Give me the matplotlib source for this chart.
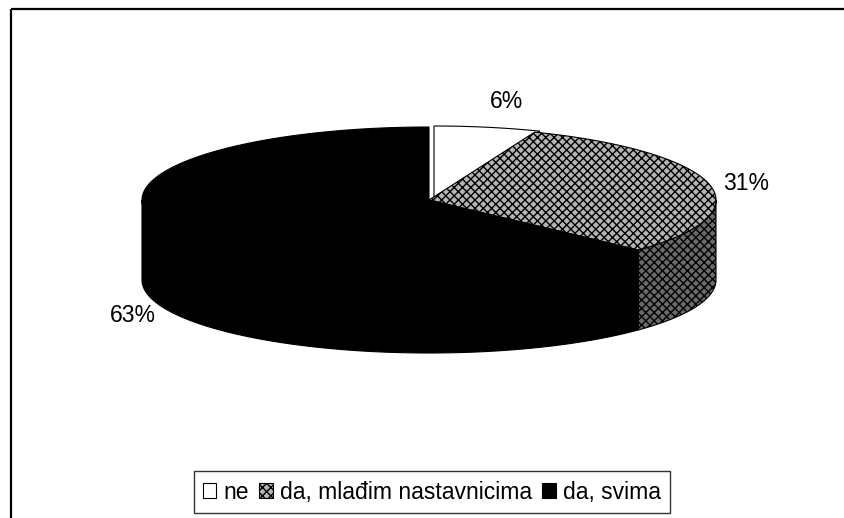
import numpy as np
import matplotlib.pyplot as plt
from matplotlib.patches import Polygon, Patch

plt.rcParams['font.family'] = ['Liberation Sans', 'DejaVu Sans']
plt.rcParams['hatch.linewidth'] = 1.0

# survey answers
labels = ['ne', 'da, mlađim nastavnicima', 'da, svima']
shares = [6, 31, 63]
pct_text = ['6%', '31%', '63%']

# look of each slice: top colour, side colour, hatch
top_colors = ['white', '#b4b4b4', 'black']
side_colors = ['white', '#6a6a6a', 'black']
hatches = [None, 'xxxx', None]
shift_x = [5, 0, 0]
shift_y = [-1, 0, 0]
label_xy = [(507, 101), (746, 183), (133, 315)]

fig = plt.figure(figsize=(8.45, 5.18), dpi=100)
ax = fig.add_axes([0, 0, 1, 1])
ax.set_xlim(0, 845)
ax.set_ylim(518, 0)
ax.axis('off')

# ellipse of the pie top, in pixels
cx, cy, rx, ry, depth = 429, 200, 287, 73, 80

frac = np.array(shares, dtype=float) / sum(shares)
edges = np.concatenate([[0], np.cumsum(frac)]) * 2 * np.pi


def rim(t0, t1, dx=0, dy=0, n=120):
    t = np.linspace(t0, t1, n)
    return cx + dx + rx * np.sin(t), cy + dy - ry * np.cos(t)


# front walls first
for i in range(len(shares)):
    a0 = max(edges[i], np.pi / 2)
    a1 = min(edges[i + 1], 3 * np.pi / 2)
    if a1 <= a0:
        continue
    x, y = rim(a0, a1, shift_x[i], shift_y[i])
    pts = np.column_stack([np.concatenate([x, x[::-1]]),
                           np.concatenate([y, y[::-1] + depth])])
    ax.add_patch(Polygon(pts, closed=True, facecolor=side_colors[i],
                         edgecolor='black', lw=0.8, hatch=hatches[i]))

# then the tops
for i in range(len(shares)):
    x, y = rim(edges[i], edges[i + 1], shift_x[i], shift_y[i])
    pts = np.column_stack([np.concatenate([[cx + shift_x[i]], x]),
                           np.concatenate([[cy + shift_y[i]], y])])
    ax.add_patch(Polygon(pts, closed=True, facecolor=top_colors[i],
                         edgecolor='black', lw=0.8, hatch=hatches[i]))

for txt, (lx, ly) in zip(pct_text, label_xy):
    ax.text(lx, ly, txt, fontsize=16.5, ha='center', va='center')

# chart area border (top and left)
ax.plot([11, 845], [9, 9], color='black', lw=1.6, solid_capstyle='butt')
ax.plot([11, 11], [9, 518], color='black', lw=1.6, solid_capstyle='butt')

handles = [Patch(facecolor=top_colors[i], edgecolor='black', lw=0.8,
                 hatch=hatches[i]) for i in range(len(shares))]
leg = fig.legend(handles, labels, loc='center', ncol=3,
                 bbox_to_anchor=(0.511, 0.05), fontsize=16.5,
                 frameon=True, fancybox=False, edgecolor='black',
                 handlelength=0.6, handleheight=0.6, handletextpad=0.3,
                 columnspacing=0.45, borderpad=0.4, borderaxespad=0)
leg.get_frame().set_linewidth(1.0)

fig.savefig('out.png', dpi=100, facecolor='white')
